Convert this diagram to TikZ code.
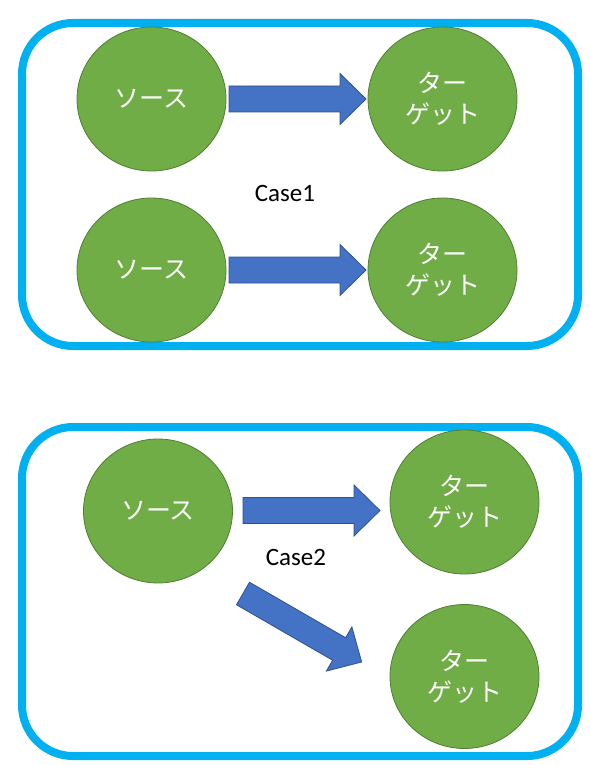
\documentclass[tikz,border=0pt]{standalone}
\usepackage{fontspec}
\setmainfont{Carlito}
\newfontfamily\jpfont{Noto Sans CJK JP}
\usetikzlibrary{shapes.geometric}
\definecolor{boxcyan}{HTML}{00B0F0}
\definecolor{circfill}{HTML}{70AD47}
\definecolor{circline}{HTML}{507E32}
\definecolor{arrfill}{HTML}{4472C4}
\definecolor{arrline}{HTML}{2F528F}
\begin{document}
\begin{tikzpicture}[x=1pt,y=-1pt,
  frame/.style={draw=boxcyan, line width=8pt, rounded corners=51pt},
  blob/.style={ellipse, draw=circline, fill=circfill, line width=0.8pt,
    minimum width=149pt, minimum height=144pt, inner sep=0pt, text=white,
    font=\jpfont\fontsize{25}{31}\selectfont, align=center},
  caselabel/.style={font=\fontsize{25}{30}\selectfont, anchor=base, inner sep=0pt},
  barrow/.pic={\filldraw[fill=arrfill, draw=arrline, line width=0.8pt]
    (0,-13) -- (111,-13) -- (111,-25.5) -- (137,0) -- (111,25.5) -- (111,13) -- (0,13) -- cycle;}
]
\useasboundingbox (0,0) rectangle (591,765);
% frames
\draw[frame] (22,23) rectangle (578,346);
\draw[frame] (22,427) rectangle (578,756);
% case 1
\node[blob] (s1) at (151.5,99) {ソース};
\node[blob] (t1) at (442.5,99) {ター\\ゲット};
\node[blob] (s2) at (151.5,270) {ソース};
\node[blob] (t2) at (442.5,270) {ター\\ゲット};
\pic at (229,99) {barrow};
\pic at (229,270) {barrow};
\node[caselabel] (c1) at (285,201) {Case1};
% case 2
\node[blob] (s3) at (158,511) {ソース};
\node[blob] (t3) at (464.5,502) {ター\\ゲット};
\node[blob] (t4) at (464.5,676.5) {ター\\ゲット};
\pic at (243,510.5) {barrow};
\pic[rotate=-30] at (243,593.5) {barrow};
\node[caselabel] (c2) at (296,565) {Case2};
\end{tikzpicture}
\end{document}
